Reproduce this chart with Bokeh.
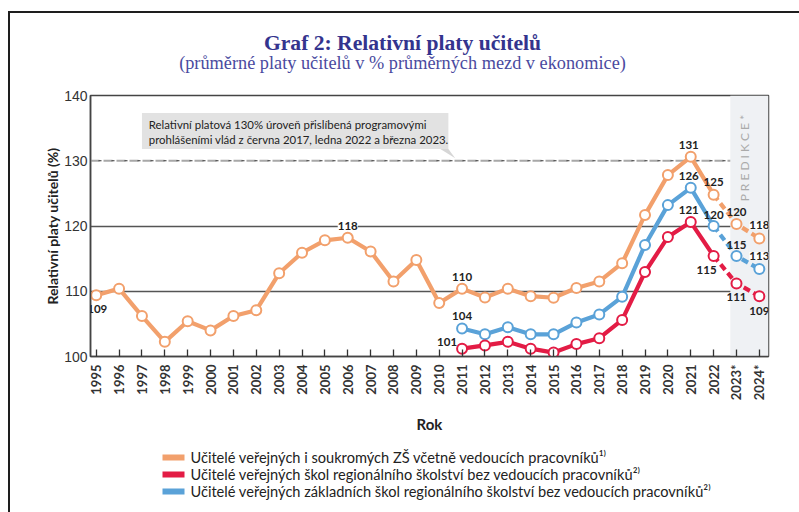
import math
from bokeh.plotting import figure
from bokeh.layouts import column
from bokeh.models import Label, FixedTicker, BoxAnnotation
from bokeh.core.properties import value
from bokeh.embed import file_html
from bokeh.resources import INLINE

# ---------------- data ----------------
years = list(range(1995, 2025))
zs_all = [109.4, 110.4, 106.2, 102.25, 105.4, 104.0, 106.2, 107.1, 112.75, 115.9,
          117.8, 118.2, 116.1, 111.5, 114.8, 108.2, 110.4, 109.05, 110.4, 109.25,
          109.0, 110.5, 111.5, 114.3, 121.7, 127.8, 130.6, 124.8, 120.3, 118.1]
sub_years = list(range(2011, 2025))
primary_regional = [104.3, 103.4, 104.5, 103.4, 103.4, 105.2, 106.45, 109.15, 117.1,
                    123.2, 125.85, 120.0, 115.4, 113.4]
regional = [101.2, 101.7, 102.25, 101.2, 100.6, 101.9, 102.8, 105.6, 112.95,
            118.3, 120.6, 115.4, 111.2, 109.25]
x_tick_labels = [str(y) for y in range(1995, 2023)] + ["2023*", "2024*"]
y_ticks = [100, 110, 120, 130, 140]
target_level = 130
last_actual_year = 2022
forecast_band_start = 2022.73

title_text = "Graf 2: Relativní platy učitelů"
subtitle_text = "(průměrné platy učitelů v % průměrných mezd v ekonomice)"
note_lines = ["Relativní platová 130% úroveň přislíbená programovými",
              "prohlášeními vlád z června 2017, ledna 2022 a března 2023."]
legend_labels = ["Učitelé veřejných i soukromých ZŠ včetně vedoucích pracovníků¹⁾",
                 "Učitelé veřejných škol regionálního školství bez vedoucích pracovníků²⁾",
                 "Učitelé veřejných základních škol regionálního školství bez vedoucích pracovníků²⁾"]

ORANGE = "#f2a06c"
RED = "#e31c45"
BLUE = "#5aa2d8"
DARK = "#222222"
FRAME = "#1e1e1e"

# layout geometry (page pixels)
W = 789
BL, BR = 80, 31            # left / right borders shared by all strips (frames align)
FX0, FX1 = 90, 768         # page x of plot frame
TOP_Y0, TOP_Y1 = 13, 85    # title strip
LEG_Y0, LEG_Y1 = 436, 512  # legend strip
MAIN_H = LEG_Y0 - TOP_Y1


def strip(y0, y1):
    f = figure(width=W, height=y1 - y0, x_range=(FX0, FX1), y_range=(y1, y0),
               output_backend="svg", toolbar_location=None,
               min_border_left=BL, min_border_right=BR, min_border_top=0, min_border_bottom=0,
               x_axis_location=None, y_axis_location=None,
               background_fill_color="white", border_fill_color="white")
    f.grid.visible = False
    f.outline_line_color = None
    return f


# ---------------- title strip ----------------
top = strip(TOP_Y0, TOP_Y1)
top.text(x=[402], y=[42], text=[title_text], text_font=value("Liberation Serif"),
         text_font_style="bold", text_font_size="21.6px", text_color="#34348e",
         text_align="center", text_baseline="middle")
top.text(x=[402], y=[62], text=[subtitle_text], text_font=value("Liberation Serif"),
         text_font_size="18.3px", text_color="#4a4aa0",
         text_align="center", text_baseline="middle")

# ---------------- main figure ----------------
p = figure(width=W, height=MAIN_H, x_range=(1994.75, 2024.4), y_range=(100, 140),
           output_backend="svg", toolbar_location=None,
           min_border_left=BL, min_border_right=BR, min_border_top=10, min_border_bottom=78,
           background_fill_color="white", border_fill_color="white")
p.outline_line_color = "#444444"
p.outline_line_width = 1.5
p.xgrid.visible = False
p.ygrid.ticker = FixedTicker(ticks=[110, 120])
p.ygrid.grid_line_color = "#555555"
p.ygrid.grid_line_width = 1.3

# forecast band
p.add_layout(BoxAnnotation(left=forecast_band_start, fill_color="#eff1f4",
                           fill_alpha=1.0, line_color=None, level="underlay"))

# 130% target line
p.segment(x0=[p.x_range.start], x1=[forecast_band_start], y0=[target_level], y1=[target_level],
          line_color="#a8a8a8", line_width=2, line_dash="9 4")
p.segment(x0=[p.x_range.start], x1=[forecast_band_start], y0=[target_level], y1=[target_level],
          line_color="#333333", line_width=1, line_dash="3 10", line_dash_offset=5)

# note box
p.add_layout(BoxAnnotation(left=1997.0, right=2010.4, bottom=131.8, top=137.3,
                           fill_color="#e2e2e2", fill_alpha=1.0, line_color=None))
p.patch([2010.05, 2010.4, 2010.7], [131.8, 131.8, 130.4], fill_color="#d6d6d6", line_color=None)
for i, line in enumerate(note_lines):
    p.add_layout(Label(x=1997.3, y=135.5 - i * 2.3, text=line, text_font="Lato",
                       text_font_size="11.4px", text_color=DARK, text_baseline="middle"))

# PREDIKCE
p.add_layout(Label(x=2023.35, y=132.1, text="P  R  E  D  I  K  C  E *", angle=math.pi / 2,
                   text_font="Lato", text_font_size="12px", text_color="#aaaaaa",
                   text_align="center", text_baseline="middle"))


def draw_series(xs, ys, color):
    solid_x = [x for x in xs if x <= last_actual_year]
    solid_y = ys[:len(solid_x)]
    dash_x = [x for x in xs if x >= last_actual_year]
    dash_y = ys[len(xs) - len(dash_x):]
    p.line(solid_x, solid_y, line_color=color, line_width=4.2, line_join="round")
    p.line(dash_x, dash_y, line_color=color, line_width=4.2, line_dash="7 4")
    p.scatter(xs, ys, size=10, fill_color="white", line_color=color, line_width=2)


draw_series(years, zs_all, ORANGE)
draw_series(sub_years, primary_regional, BLUE)
draw_series(sub_years, regional, RED)

# data labels: (x list, y list, year, dx, dy, background)
label_specs = [
    (years, zs_all, 1995, 1, -14, False), (years, zs_all, 2006, 0, 12, True),
    (years, zs_all, 2011, 0, 12, False), (years, zs_all, 2021, -2, 12, False),
    (years, zs_all, 2022, 0, 13, False), (years, zs_all, 2023, 0, 12, False),
    (years, zs_all, 2024, 0, 13, True),
    (sub_years, primary_regional, 2011, 0, 12, False), (sub_years, primary_regional, 2021, -2, 12, False),
    (sub_years, primary_regional, 2022, 0, 11, False), (sub_years, primary_regional, 2023, 0, 11, False),
    (sub_years, primary_regional, 2024, 0, 13, True),
    (sub_years, regional, 2011, -15, 7, False), (sub_years, regional, 2021, -2, 12, False),
    (sub_years, regional, 2022, -7, -14, False), (sub_years, regional, 2023, 0, -14, False),
    (sub_years, regional, 2024, 0, -15, False),
]
for xs, ys, yr, dx, dy, bg in label_specs:
    v = ys[xs.index(yr)]
    p.add_layout(Label(x=yr, y=v, x_offset=dx, y_offset=dy, text=str(round(v)),
                       text_font="Lato", text_font_style="bold", text_font_size="11.5px",
                       text_color=DARK, text_align="center", text_baseline="middle",
                       background_fill_color="white" if bg else None,
                       background_fill_alpha=1.0))

# axes
p.xaxis.ticker = FixedTicker(ticks=years)
p.xaxis.major_label_overrides = {y: lab for y, lab in zip(years, x_tick_labels)}
p.xaxis.major_label_orientation = math.pi / 2
p.xaxis.major_label_text_font = "Lato"
p.xaxis.major_label_text_font_style = "bold"
p.xaxis.major_label_text_font_size = "13px"
p.xaxis.major_label_text_color = "#333333"
p.xaxis.major_label_standoff = 8
p.xaxis.major_tick_in = 7
p.xaxis.major_tick_out = 0
p.xaxis.minor_tick_line_color = None
p.xaxis.axis_line_color = "#444444"
p.xaxis.axis_line_width = 1.5
p.xaxis.major_tick_line_color = "#333333"
p.xaxis.major_tick_line_width = 1.3
p.xaxis.axis_label = "Rok"
p.xaxis.axis_label_text_font = "Lato"
p.xaxis.axis_label_text_font_style = "bold"
p.xaxis.axis_label_text_font_size = "15px"
p.xaxis.axis_label_text_color = DARK
p.xaxis.axis_label_standoff = 12

p.yaxis.ticker = FixedTicker(ticks=y_ticks)
p.yaxis.major_tick_in = 0
p.yaxis.major_tick_out = 0
p.yaxis.minor_tick_line_color = None
p.yaxis.axis_line_color = "#444444"
p.yaxis.axis_line_width = 1.5
p.yaxis.major_label_text_font = "Liberation Sans"
p.yaxis.major_label_text_font_size = "14px"
p.yaxis.major_label_text_color = "#333333"
p.yaxis.major_label_standoff = 3
p.yaxis.axis_label = "Relativní platy učitelů (%)"
p.yaxis.axis_label_text_font = "Lato"
p.yaxis.axis_label_text_font_style = "bold"
p.yaxis.axis_label_text_font_size = "14px"
p.yaxis.axis_label_text_color = DARK
p.yaxis.axis_label_standoff = 0

# ---------------- legend strip ----------------
leg = strip(LEG_Y0, LEG_Y1)
leg_colors = [ORANGE, RED, BLUE]
row_y = [457 + 17 * i for i in range(len(legend_labels))]
leg.rect(x=[173] * len(row_y), y=row_y, width=22, height=6, fill_color=leg_colors,
         line_color=None)
leg.text(x=[190] * len(row_y), y=row_y, text=legend_labels, text_font=value("Lato"),
         text_font_size="14.6px", text_color=DARK, text_baseline="middle")

layout = column(top, p, leg, spacing=0,
                styles={"border-left": f"2px solid {FRAME}", "border-top": f"2px solid {FRAME}",
                        "margin-left": "8px", "margin-top": "11px"})
open("out.html", "w").write(file_html(layout, INLINE))
